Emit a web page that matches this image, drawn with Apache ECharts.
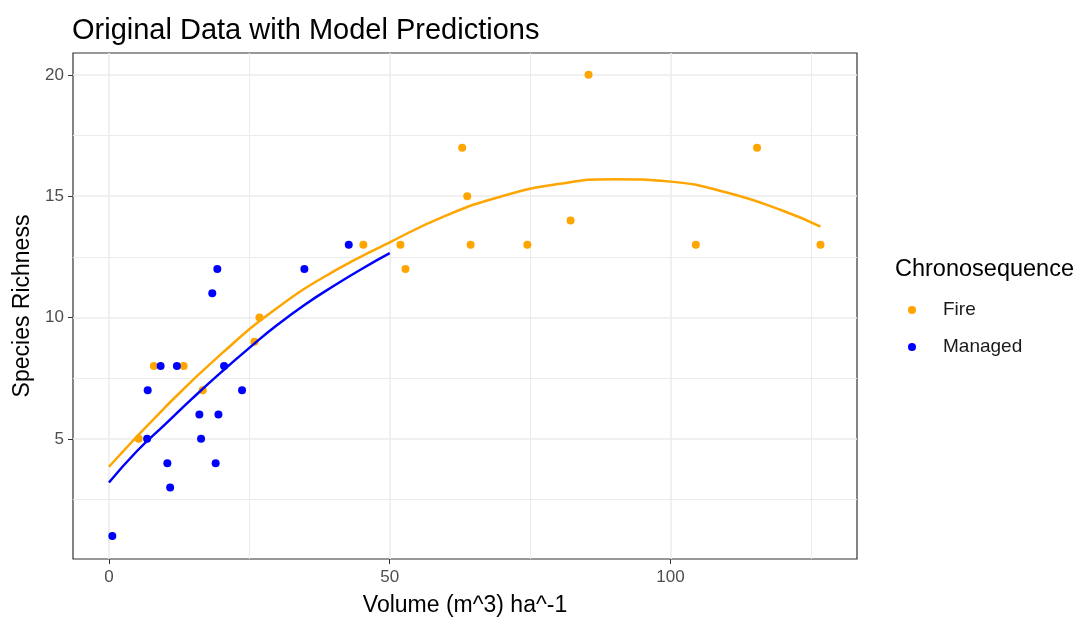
<!DOCTYPE html>
<html>
<head>
<meta charset="utf-8">
<title>Original Data with Model Predictions</title>
<script src="https://cdn.jsdelivr.net/npm/echarts@6/dist/echarts.min.js"></script>
<style>
    html, body { margin: 0; padding: 0; background: #fff; }
    #chart { width: 1082px; height: 622px; }
</style>
</head>
<body>
<div id="chart"></div>
<script>
// observed points, [volume, richness]
const firePoints = [
    [5.3, 5], [8, 8], [13.3, 8], [16.7, 7], [25.9, 9], [26.8, 10],
    [45.3, 13], [51.9, 13], [52.8, 12], [62.9, 17], [63.8, 15], [64.4, 13],
    [74.5, 13], [82.2, 14], [85.4, 20], [104.5, 13], [115.4, 17], [126.7, 13]
]
const managedPoints = [
    [0.6, 1], [6.9, 7], [6.8, 5], [9.2, 8], [10.4, 4], [10.9, 3], [12.1, 8],
    [16.1, 6], [16.4, 5], [18.4, 11], [19, 4], [19.3, 12], [19.5, 6],
    [20.5, 8], [23.7, 7], [34.8, 12], [42.7, 13]
]

// model prediction curves
const fireFitX = [0, 10, 20, 30, 40, 50, 60, 70, 80, 90, 100, 110, 120, 126.7]
const fireFitY = [3.85, 6.3, 8.5, 10.4, 11.9, 13.1, 14.2, 15.0, 15.5, 15.7, 15.6, 15.15, 14.4, 13.75]
const managedFitX = [0, 5, 10, 15, 20, 25, 30, 35, 40, 45, 50]
const managedFitY = [3.2, 4.5, 5.6, 6.7, 7.75, 8.75, 9.7, 10.55, 11.3, 12.0, 12.65]

const xTicks = [0, 50, 100]
const yTicks = [5, 10, 15, 20]
const xMinor = [25, 75, 125]
const yMinor = [2.5, 7.5, 12.5, 17.5]

const FONT = "'Liberation Sans', Arial, sans-serif"

const gridLines = []
xTicks.forEach(v => gridLines.push({ xAxis: v, lineStyle: { width: 1.5 } }))
xMinor.forEach(v => gridLines.push({ xAxis: v, lineStyle: { width: 1 } }))
yTicks.forEach(v => gridLines.push({ yAxis: v, lineStyle: { width: 1.5 } }))
yMinor.forEach(v => gridLines.push({ yAxis: v, lineStyle: { width: 1 } }))

const myChart = echarts.init(document.getElementById('chart'))

const option = {
    animation: false,
    title: [
        {
            text: 'Original Data with Model Predictions',
            left: 67,
            top: 11,
            textStyle: { fontFamily: FONT, fontSize: 29, fontWeight: 'normal', color: '#000' }
        },
        {
            text: 'Chronosequence',
            left: 890,
            top: 253,
            textStyle: { fontFamily: FONT, fontSize: 23.5, fontWeight: 'normal', color: '#000' }
        }
    ],
    legend: {
        data: ['Fire', 'Managed'],
        orient: 'vertical',
        left: 903,
        top: 295,
        icon: 'circle',
        itemWidth: 52,
        itemHeight: 8,
        itemGap: 17,
        textStyle: { fontFamily: FONT, fontSize: 19, color: '#1a1a1a', lineHeight: 20 }
    },
    grid: {
        left: 73,
        right: 225,
        top: 53,
        bottom: 63,
        show: true,
        borderColor: '#333333',
        borderWidth: 1.2
    },
    xAxis: {
        type: 'value',
        min: -6.4,
        max: 133.2,
        name: 'Volume (m^3) ha^-1',
        nameLocation: 'middle',
        nameGap: 35,
        nameTextStyle: { fontFamily: FONT, fontSize: 23, color: '#000' },
        axisLine: { show: false, onZero: false },
        axisTick: { show: true, customValues: xTicks, length: 5, lineStyle: { color: '#333333' } },
        axisLabel: { customValues: xTicks, margin: 10, fontFamily: FONT, fontSize: 17, color: '#4d4d4d' },
        splitLine: { show: false }
    },
    yAxis: {
        type: 'value',
        min: 0.05,
        max: 20.9,
        name: 'Species Richness',
        nameLocation: 'middle',
        nameGap: 38,
        nameTextStyle: { fontFamily: FONT, fontSize: 23, color: '#000' },
        axisLine: { show: false, onZero: false },
        axisTick: { show: true, customValues: yTicks, length: 5, lineStyle: { color: '#333333' } },
        axisLabel: { customValues: yTicks, margin: 9, fontFamily: FONT, fontSize: 17, color: '#4d4d4d' },
        splitLine: { show: false }
    },
    series: [
        {
            name: 'grid',
            type: 'line',
            data: [],
            silent: true,
            z: 0,
            markLine: {
                z: 0,
                silent: true,
                symbol: 'none',
                label: { show: false },
                lineStyle: { color: '#ebebeb', type: 'solid' },
                data: gridLines
            }
        },
        {
            name: 'Fire',
            type: 'scatter',
            symbolSize: 8,
            z: 2,
            itemStyle: { color: '#FFA500', opacity: 1 },
            data: firePoints
        },
        {
            name: 'Managed',
            type: 'scatter',
            symbolSize: 8,
            z: 2,
            itemStyle: { color: '#0000FF', opacity: 1 },
            data: managedPoints
        },
        {
            name: 'Fire fit',
            type: 'line',
            smooth: true,
            showSymbol: false,
            z: 4,
            lineStyle: { color: '#FFA500', width: 2.5 },
            data: fireFitX.map((x, i) => [x, fireFitY[i]])
        },
        {
            name: 'Managed fit',
            type: 'line',
            smooth: true,
            showSymbol: false,
            z: 4,
            lineStyle: { color: '#0000FF', width: 2.5 },
            data: managedFitX.map((x, i) => [x, managedFitY[i]])
        }
    ]
}

myChart.setOption(option)

window.addEventListener('resize', function () {
    myChart.resize()
})
</script>
</body>
</html>
